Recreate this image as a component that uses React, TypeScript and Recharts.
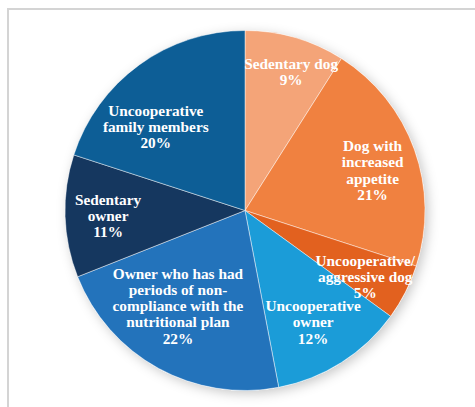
import React from 'react'
import { Pie, PieChart, Cell } from 'recharts'

const categories = [
  ['Sedentary dog'],
  ['Dog with', 'increased', 'appetite'],
  ['Uncooperative/', 'aggressive dog'],
  ['Uncooperative', 'owner'],
  ['Owner who has had', 'periods of non-', 'compliance with the', 'nutritional plan'],
  ['Sedentary', 'owner'],
  ['Uncooperative', 'family members'],
]
const shares = [9, 21, 5, 12, 22, 11, 20]
const colors = ['#f4a478', '#f08140', '#e2611f', '#1b9cd8', '#2373bb', '#15375f', '#0d5e96']

// label placement: radius and angle nudge from slice mid angle
const labelRadius = [147, 134, 137, 130, 116, 137, 123]
const labelNudge = [-2.1, -2, -1.6, -0.8, -6.5, 0.1, 10.5]

const data = categories.map((lines, i) => ({ name: lines.join(' '), lines, value: shares[i] }))

const RAD = Math.PI / 180

function renderLabel(props: any) {
  const { cx, cy, midAngle, index } = props
  const a = (midAngle + labelNudge[index]) * RAD
  const x = cx + labelRadius[index] * Math.cos(a)
  const y = cy - labelRadius[index] * Math.sin(a)
  const lines = [...data[index].lines, `${data[index].value}%`]
  const lh = 16.3
  const top = y - ((lines.length - 1) * lh) / 2
  return (
    <text
      x={x}
      y={top}
      fill="#ffffff"
      textAnchor="middle"
      dominantBaseline="central"
      fontFamily="'Liberation Serif', 'Times New Roman', serif"
      fontWeight="bold"
      fontSize={15.3}
    >
      {lines.map((l, i) => (
        <tspan key={i} x={x} y={top + i * lh}>
          {l}
        </tspan>
      ))}
    </text>
  )
}

export default function App() {
  return (
    <div style={{ position: 'absolute', left: 0, top: 0, width: 475, height: 407, background: '#fff', overflow: 'hidden' }}>
      <div
        style={{
          position: 'absolute',
          left: 7,
          top: 8,
          width: 480,
          height: 420,
          borderTop: '2px solid #d4d4d4',
          borderLeft: '2px solid #d4d4d4',
        }}
      />
      <div style={{ position: 'absolute', left: 0, top: 0 }}>
        <PieChart width={475} height={407} margin={{ top: 0, right: 0, bottom: 0, left: 0 }}>
          <defs>
            <filter id="pieShadow" x="-20%" y="-20%" width="140%" height="140%">
              <feDropShadow dx="3" dy="3" stdDeviation="6" floodColor="#000" floodOpacity="0.22" />
            </filter>
          </defs>
          <Pie
            data={[{ value: 1 }]}
            dataKey="value"
            cx={245}
            cy={210.5}
            outerRadius={180}
            startAngle={90}
            endAngle={-270}
            fill="#ffffff"
            stroke="none"
            filter="url(#pieShadow)"
            isAnimationActive={false}
          />
          <Pie
            data={data}
            dataKey="value"
            nameKey="name"
            cx={245}
            cy={210.5}
            outerRadius={180}
            startAngle={90}
            endAngle={-270}
            stroke="rgba(255,255,255,0.45)"
            strokeWidth={1}
            label={renderLabel}
            labelLine={false}
            isAnimationActive={false}
          >
            {data.map((d, i) => (
              <Cell key={d.name} fill={colors[i]} />
            ))}
          </Pie>
        </PieChart>
      </div>
    </div>
  )
}
